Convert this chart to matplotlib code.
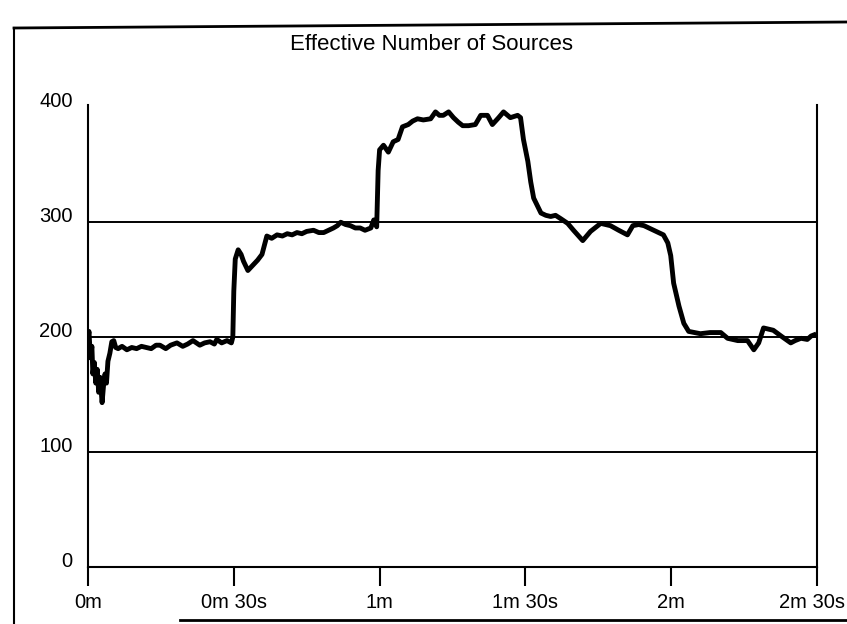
import matplotlib
matplotlib.use("Agg")
import matplotlib.pyplot as plt
from matplotlib.lines import Line2D
from matplotlib.transforms import ScaledTranslation

plt.rcParams["font.family"] = ["Liberation Sans", "DejaVu Sans"]

# time in seconds, effective number of sources
t_sec = [
    0.0, 0.2, 0.5, 0.8, 1.0, 1.3, 1.6, 1.9, 2.2, 2.5, 2.9, 3.2, 3.5, 3.8, 4.1,
    4.5, 4.9, 5.3, 5.7, 6.2, 7.0, 8.0, 9.0, 10.0, 11.0, 12.0, 13.0, 14.0, 14.8,
    16.0, 17.0, 18.3, 19.5, 20.5, 21.6, 23.0, 24.0, 25.1, 26.0, 26.5, 27.5,
    28.6, 29.5, 29.8, 30.0, 30.3, 30.9, 31.5, 32.0, 32.9, 33.8, 34.9, 35.8,
    36.8, 37.8, 38.9, 40.0, 41.0, 42.0, 43.0, 44.0, 45.0, 46.4, 47.5, 48.5,
    49.5, 50.5, 51.3, 52.0, 53.0, 54.0, 55.0, 56.0, 57.0, 58.2, 58.8, 59.4,
    59.7, 60.0, 60.8, 61.8, 62.8, 63.8, 64.7, 65.9, 66.8, 67.8, 69.0, 70.5,
    71.5, 72.3, 73.1, 74.2, 75.2, 76.2, 77.1, 78.3, 79.7, 80.8, 82.2, 83.2,
    84.5, 85.5, 86.9, 88.4, 89.0, 89.6, 90.5, 91.1, 91.7, 93.2, 94.2, 95.2,
    96.2, 97.3, 98.7, 99.9, 101.8, 103.4, 105.5, 106.5, 107.5, 109.2, 111.0,
    112.1, 113.3, 114.4, 116.4, 118.4, 119.3, 119.9, 120.5, 121.6, 122.6,
    123.6, 126.0, 128.0, 130.2, 131.6, 133.7, 135.7, 137.0, 138.0, 139.0,
    141.0, 142.6, 144.6, 145.5, 146.7, 148.0, 148.8, 149.4,
]
n_sources = [
    198, 205, 182, 192, 168, 178, 160, 172, 152, 165, 143, 158, 168, 160, 179,
    186, 196, 197, 191, 190, 192, 189, 191, 190, 192, 191, 190, 193, 193,
    190, 193, 195, 192, 194, 197, 193, 195, 196, 194, 198, 195,
    197, 195, 200, 240, 268, 276, 272, 266, 258, 262, 267, 272,
    288, 286, 289, 288, 290, 289, 291, 290, 292, 293, 291, 291,
    293, 295, 297, 300, 298, 297, 295, 295, 293, 295, 302, 296,
    345, 363, 367, 361, 370, 372, 383, 385, 388, 390, 389, 390,
    396, 393, 393, 396, 391, 387, 384, 384, 385, 393, 393, 385,
    391, 396, 391, 393, 391, 372, 353, 335, 321, 308, 306, 305,
    306, 303, 299, 293, 284, 292, 299, 298, 297, 293, 289,
    297, 298, 297, 293, 289, 282, 271, 247, 227, 212,
    205, 203, 204, 204, 199, 197, 197, 189, 195, 208,
    206, 201, 195, 197, 199, 198, 201, 202,
]

x_ticks = [0, 30, 60, 90, 120, 150]
x_labels = ["0m", "0m 30s", "1m", "1m 30s", "2m", "2m 30s"]
y_ticks = [0, 100, 200, 300, 400]
grid_levels = [100, 200, 300]
title = "Effective Number of Sources"

W, H = 847, 624
fig = plt.figure(figsize=(W / 100, H / 100), dpi=100)
ax = fig.add_axes([88 / W, 57 / H, 729 / W, 462 / H])

for lvl in grid_levels:
    ax.axhline(lvl, color="black", lw=1.4, zorder=1)

ax.plot(t_sec, n_sources, color="black", lw=3.5, solid_joinstyle="round", zorder=3)

ax.set_xlim(0, 150)
ax.set_ylim(0, 402)
ax.spines["top"].set_visible(False)
for s in ["left", "right", "bottom"]:
    ax.spines[s].set_linewidth(1.5)

ax.set_xticks(x_ticks)
ax.set_xticklabels(x_labels, fontsize=14.5)
ax.tick_params(axis="x", direction="out", length=14, width=1.5, pad=5)
ax.set_yticks(y_ticks)
ax.set_yticklabels([str(v) for v in y_ticks], fontsize=14.5)
ax.tick_params(axis="y", length=0, pad=11)
plt.setp(ax.get_yticklabels(), va="baseline")

# last x label sits against the right edge; pull it in a few pixels
last = ax.get_xticklabels()[-1]
last.set_transform(last.get_transform() + ScaledTranslation(-5 / 100, 0, fig.dpi_scale_trans))

fig.text(431 / W, 1 - 44 / H, title, ha="center", va="center", fontsize=16)

# window frame around the chart
fig.add_artist(Line2D([14 / W, 1], [1 - 28 / H, 1 - 22 / H], color="black", lw=2))
fig.add_artist(Line2D([14 / W, 14 / W], [1 - 28 / H, 0], color="black", lw=1.5))
fig.add_artist(Line2D([180 / W, 1], [1 - 620 / H, 1 - 620 / H], color="black", lw=2))

fig.savefig("out.png", dpi=100)
